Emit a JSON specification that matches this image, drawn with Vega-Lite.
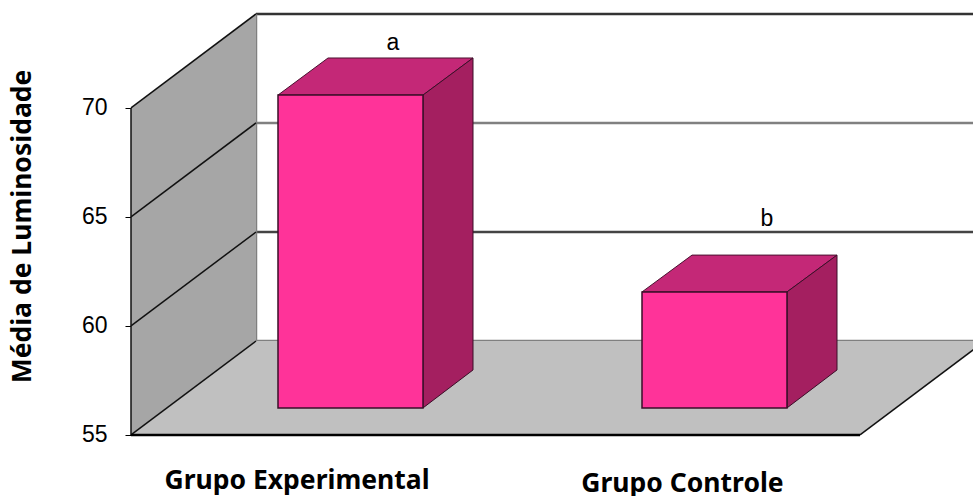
{
  "$schema": "https://vega.github.io/schema/vega-lite/v6.json",
  "width": 973,
  "height": 496,
  "padding": 0,
  "autosize": "none",
  "background": "white",
  "config": {"view": {"stroke": null}},
  "datasets": {
    "backLines": [
      {"line": "topo", "x": 25.6, "x2": 97.3, "y": 74.31, "y2": 74.31},
      {"line": "meio", "x": 25.6, "x2": 97.3, "y": 69.31, "y2": 69.31},
      {"line": "baixo", "x": 25.6, "x2": 97.3, "y": 64.31, "y2": 64.31},
      {"line": "meio", "x": 25.6, "x2": 97.3, "y": 59.31, "y2": 59.31},
      {"line": "meio", "x": 25.6, "x2": 25.6, "y": 59.31, "y2": 74.31}
    ],
    "wall": [
      {"x": 13.1, "y": 55, "y2": 70},
      {"x": 25.6, "y": 59.31, "y2": 74.31}
    ],
    "floor": [
      {"y": 55, "x": 13.1, "x2": 86},
      {"y": 59.31, "x": 25.6, "x2": 98.5}
    ],
    "edges": [
      {"x": 13.1, "x2": 13.1, "y": 55, "y2": 70},
      {"x": 13.1, "x2": 25.6, "y": 70, "y2": 74.31},
      {"x": 13.1, "x2": 25.6, "y": 65, "y2": 69.31},
      {"x": 13.1, "x2": 25.6, "y": 60, "y2": 64.31},
      {"x": 13.1, "x2": 25.6, "y": 55, "y2": 59.31},
      {"x": 86, "x2": 98.5, "y": 55, "y2": 59.31}
    ],
    "front": [
      {"bar": "Grupo Experimental", "x": 27.8, "x2": 42.3, "y": 56.24, "y2": 70.59},
      {"bar": "Grupo Controle", "x": 64.2, "x2": 78.7, "y": 56.24, "y2": 61.56}
    ],
    "side": [
      {"bar": "Grupo Experimental", "x": 42.3, "y": 56.24, "y2": 70.59},
      {"bar": "Grupo Experimental", "x": 47.3, "y": 57.98, "y2": 72.29},
      {"bar": "Grupo Controle", "x": 78.7, "y": 56.24, "y2": 61.56},
      {"bar": "Grupo Controle", "x": 83.7, "y": 57.98, "y2": 63.25}
    ],
    "top": [
      {"bar": "Grupo Experimental", "y": 70.59, "x": 27.8, "x2": 42.3},
      {"bar": "Grupo Experimental", "y": 72.29, "x": 32.8, "x2": 47.3},
      {"bar": "Grupo Controle", "y": 61.56, "x": 64.2, "x2": 78.7},
      {"bar": "Grupo Controle", "y": 63.25, "x": 69.2, "x2": 83.7}
    ],
    "letters": [
      {"label": "a", "x": 39.3, "y": 72.96},
      {"label": "b", "x": 76.7, "y": 64.9}
    ],
    "groups": [
      {"label": "Grupo Experimental", "x": 29.7, "y": 52.89},
      {"label": "Grupo Controle", "x": 68.25, "y": 52.74}
    ]
  },
  "encoding": {
    "x": {"field": "x", "type": "quantitative", "scale": {"domain": [0, 97.3], "nice": false, "zero": false}, "axis": null},
    "y": {
      "field": "y",
      "type": "quantitative",
      "scale": {"domain": [52.2, 74.95], "nice": false, "zero": false},
      "axis": {
        "offset": -131,
        "values": [55, 60, 65, 70],
        "domain": false,
        "grid": false,
        "tickSize": 6,
        "tickColor": "#000000",
        "tickWidth": 1,
        "labelPadding": 18,
        "labelFont": "Liberation Sans",
        "labelFontSize": 23,
        "labelColor": "#000000",
        "title": "Média de Luminosidade",
        "titleFont": "Noto Sans",
        "titleFontWeight": "bold",
        "titleFontSize": 26.5,
        "titleColor": "#000000",
        "titleAngle": -90,
        "titleAlign": "center",
        "titleBaseline": "middle",
        "titleX": -109,
        "titleY": 226
      }
    }
  },
  "layer": [
    {
      "data": {"name": "backLines"},
      "mark": {"type": "rule", "strokeWidth": 2.5},
      "encoding": {
        "x2": {"field": "x2"},
        "y2": {"field": "y2"},
        "color": {"field": "line", "type": "nominal", "legend": null, "scale": {"domain": ["topo", "meio", "baixo"], "range": ["#333333", "#808080", "#444444"]}}
      }
    },
    {
      "data": {"name": "wall"},
      "mark": {"type": "area", "orient": "vertical", "color": "#a6a6a6"},
      "encoding": {"y2": {"field": "y2"}}
    },
    {
      "data": {"name": "floor"},
      "mark": {"type": "area", "orient": "horizontal", "color": "#c0c0c0", "clip": true},
      "encoding": {"x2": {"field": "x2"}}
    },
    {
      "data": {"name": "edges"},
      "mark": {"type": "rule", "color": "#111111", "strokeWidth": 1.5, "clip": true},
      "encoding": {"x2": {"field": "x2"}, "y2": {"field": "y2"}}
    },
    {
      "data": {"values": [{"x": 13.1, "x2": 86, "y": 55}]},
      "mark": {"type": "rule", "color": "#000000", "strokeWidth": 2.5},
      "encoding": {"x2": {"field": "x2"}}
    },
    {
      "data": {"name": "top"},
      "mark": {"type": "area", "orient": "horizontal", "color": "#c42877", "stroke": "#4a1230", "strokeWidth": 1},
      "encoding": {"x2": {"field": "x2"}, "detail": {"field": "bar"}}
    },
    {
      "data": {"name": "side"},
      "mark": {"type": "area", "orient": "vertical", "color": "#a41f60", "stroke": "#3a0f28", "strokeWidth": 1},
      "encoding": {"y2": {"field": "y2"}, "detail": {"field": "bar"}}
    },
    {
      "data": {"name": "front"},
      "mark": {"type": "rect", "color": "#ff3399", "stroke": "#3a0f28", "strokeWidth": 1.5},
      "encoding": {"x2": {"field": "x2"}, "y2": {"field": "y2"}}
    },
    {
      "data": {"name": "letters"},
      "mark": {"type": "text", "font": "Liberation Sans", "fontSize": 23, "color": "#000000", "align": "center", "baseline": "middle"},
      "encoding": {"text": {"field": "label"}}
    },
    {
      "data": {"name": "groups"},
      "mark": {"type": "text", "font": "Noto Sans", "fontWeight": "bold", "fontSize": 26.5, "color": "#000000", "align": "center", "baseline": "middle"},
      "encoding": {"text": {"field": "label"}}
    }
  ]
}
